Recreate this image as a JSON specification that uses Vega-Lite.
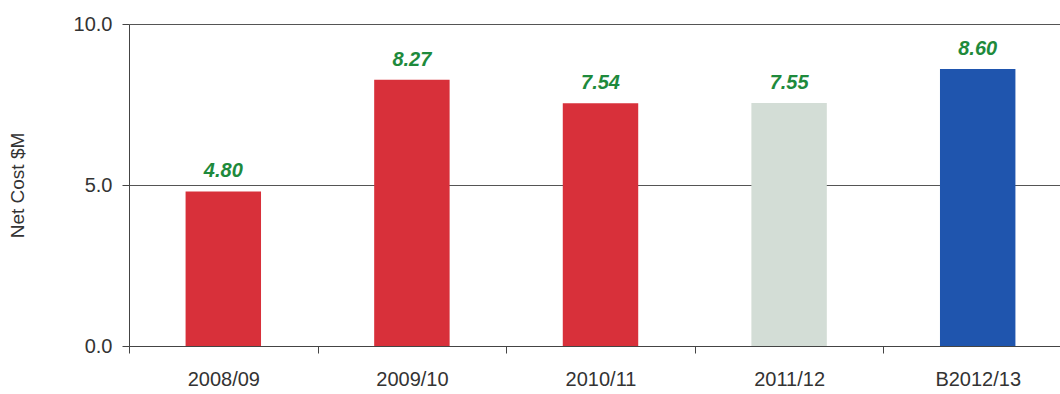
{
  "$schema": "https://vega.github.io/schema/vega-lite/v6.json",
  "width": 943,
  "height": 322,
  "autosize": {"type": "none"},
  "padding": {"left": 129, "top": 24, "right": 0, "bottom": 48},
  "background": "white",
  "config": {"view": {"stroke": null}, "font": "Liberation Sans"},
  "data": {"values": [
    {"year": "2008/09", "cost": 4.80, "kind": "actual"},
    {"year": "2009/10", "cost": 8.27, "kind": "actual2"},
    {"year": "2010/11", "cost": 7.54, "kind": "actual3"},
    {"year": "2011/12", "cost": 7.55, "kind": "forecast"},
    {"year": "B2012/13", "cost": 8.60, "kind": "budget"}
  ]},
  "encoding": {
    "x": {"field": "year", "type": "nominal", "sort": null,
      "scale": {"paddingInner": 0, "paddingOuter": 0},
      "axis": {"title": null, "labelAngle": 0, "labelFontSize": 20, "labelColor": "#333", "labelPadding": 16,
        "tickBand": "extent", "tickSize": 7, "tickColor": "#444", "domain": true, "domainColor": "#444", "grid": false}},
    "y": {"field": "cost", "type": "quantitative",
      "scale": {"domain": [0, 10]},
      "axis": {"values": [0, 5, 10], "format": ".1f", "title": "Net Cost $M", "titleFontSize": 19, "titleFontWeight": "normal", "titleColor": "#333", "titlePadding": 46,
        "labelFontSize": 20, "labelColor": "#333", "labelPadding": 10, "tickSize": 7, "tickColor": "#444",
        "domainColor": "#444", "grid": true, "gridColor": "#555", "gridWidth": 1}}
  },
  "layer": [
    {"mark": {"type": "bar", "stroke": null, "width": {"band": 0.4}},
      "encoding": {"color": {"field": "kind", "type": "nominal", "legend": null,
        "scale": {"domain": ["actual", "actual2", "actual3", "forecast", "budget"], "range": ["#d8303a", "#d8303a", "#d8303a", "#d3ddd6", "#1f55ae"]}}}},
    {"mark": {"type": "text", "baseline": "alphabetic", "dy": -14, "fontSize": 20, "fontWeight": "bold", "fontStyle": "italic", "color": "#1e8a3c"},
      "encoding": {"text": {"field": "cost", "type": "quantitative", "format": ".2f"}}}
  ]
}
